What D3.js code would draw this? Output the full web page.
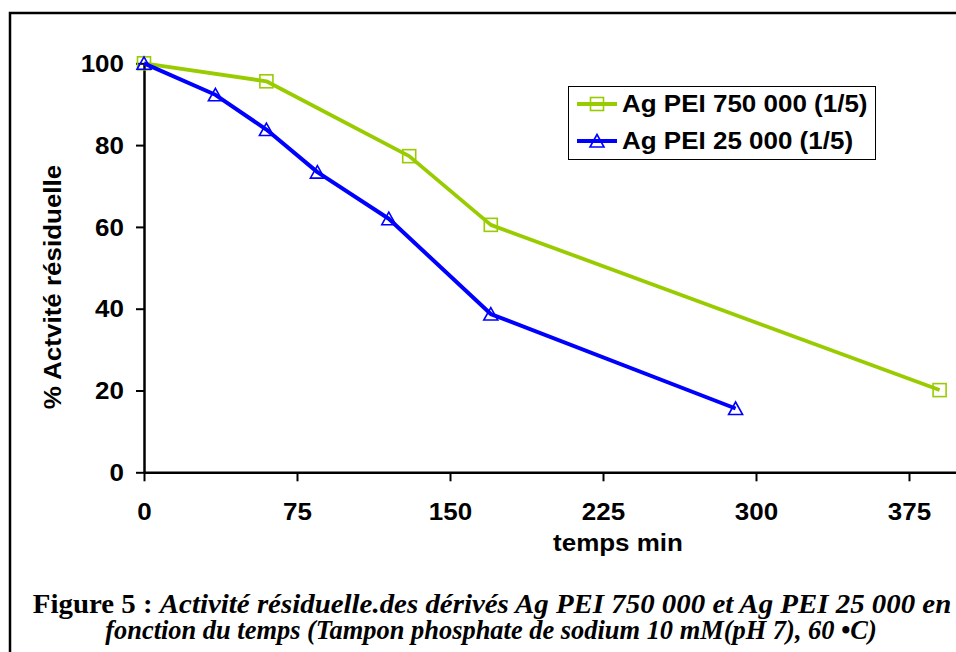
<!DOCTYPE html>
<html>
<head>
<meta charset="utf-8">
<script src="https://cdn.jsdelivr.net/npm/d3@7"></script>
<style>
  body { margin: 0; background: #fff; }
  svg { display: block; }
</style>
</head>
<body>
<svg id="main-vis"></svg>
<script>
// values
const timeGreen = [0, 60, 130, 170, 390];
const actGreen = [100, 95.6, 77.3, 60.5, 20.1];
const timeBlue = [0, 35, 60, 85, 120, 170, 290];
const actBlue = [100, 92.3, 83.8, 73.4, 62, 38.7, 15.6];
const seriesNames = ["Ag PEI 750 000 (1/5)", "Ag PEI 25 000 (1/5)"];
const seriesColors = ["#99cc00", "#0000ff"];
const xTicks = [0, 75, 150, 225, 300, 375];
const yTicks = [0, 20, 40, 60, 80, 100];

const width = 956;
const height = 652;
const fs = 23;
const sx = 1.13; // the original text is drawn a bit wider than Arial
const font = "Arial, 'Liberation Sans', sans-serif";
const serif = "'Times New Roman', 'Liberation Serif', serif";

const svg = d3.select("#main-vis")
  .attr("width", width)
  .attr("height", height);

// outer frame (only top and left edges are inside the picture)
svg.append("path")
  .attr("d", "M10,660 L10,13 L960,13")
  .attr("fill", "none")
  .attr("stroke", "#000")
  .attr("stroke-width", 2.5);

const x = d3.scaleLinear().domain([0, 400]).range([144, 960]);
const y = d3.scaleLinear().domain([0, 100]).range([472.3, 63.3]);

// axes
const yAxis = svg.append("g")
  .attr("transform", `translate(${x(0)},0)`)
  .call(d3.axisLeft(y).tickValues(yTicks).tickSize(8).tickSizeOuter(0));

const xAxis = svg.append("g")
  .attr("transform", `translate(0,${y(0)})`)
  .call(d3.axisBottom(x).tickValues(xTicks).tickSize(9).tickSizeOuter(0));

[xAxis, yAxis].forEach(a => {
  a.select(".domain").attr("stroke", "#000").attr("stroke-width", 2.5);
  a.selectAll(".tick line").attr("stroke", "#000").attr("stroke-width", 2);
  a.selectAll(".tick text")
    .attr("font-family", font)
    .attr("font-weight", "bold")
    .attr("font-size", fs)
    .attr("fill", "#000");
});

yAxis.selectAll(".tick text")
  .attr("x", 0).attr("dy", "0.36em")
  .attr("transform", `translate(-20,0) scale(${sx},1)`);

xAxis.selectAll(".tick text")
  .attr("y", 0).attr("dy", 0)
  .attr("text-anchor", "middle")
  .attr("transform", `translate(0,48) scale(${sx},1)`);

// axis titles
function label(str, tx, ty, rot, anchor) {
  return svg.append("text")
    .attr("transform", `translate(${tx},${ty}) rotate(${rot}) scale(${sx},1)`)
    .attr("text-anchor", anchor)
    .attr("font-family", font)
    .attr("font-weight", "bold")
    .attr("font-size", fs)
    .attr("fill", "#000")
    .text(str);
}

label("temps min", 618, 551, 0, "middle");
label("% Actvité résiduelle", 61, 287, -90, "middle");

// series
const line = d3.line().x(d => x(d[0])).y(d => y(d[1]));
const greenPts = d3.zip(timeGreen, actGreen);
const bluePts = d3.zip(timeBlue, actBlue);

function square(g, color) {
  g.append("rect")
    .attr("x", -6.5).attr("y", -6.5)
    .attr("width", 13).attr("height", 13)
    .attr("fill", "none")
    .attr("stroke", color)
    .attr("stroke-width", 1.6);
}
function triangle(g, color) {
  g.append("path")
    .attr("d", "M0,-6.5 L7,6 L-7,6 Z")
    .attr("fill", "none")
    .attr("stroke", color)
    .attr("stroke-width", 1.6);
}

svg.append("path")
  .datum(greenPts)
  .attr("d", line)
  .attr("fill", "none")
  .attr("stroke", seriesColors[0])
  .attr("stroke-width", 3.8)
  .attr("stroke-linejoin", "round");

svg.append("g").selectAll("g")
  .data(greenPts)
  .enter().append("g")
  .attr("transform", d => `translate(${x(d[0])},${y(d[1])})`)
  .each(function () { square(d3.select(this), seriesColors[0]); });

svg.append("path")
  .datum(bluePts)
  .attr("d", line)
  .attr("fill", "none")
  .attr("stroke", seriesColors[1])
  .attr("stroke-width", 4)
  .attr("stroke-linejoin", "round");

svg.append("g").selectAll("g")
  .data(bluePts)
  .enter().append("g")
  .attr("transform", d => `translate(${x(d[0])},${y(d[1])})`)
  .each(function () { triangle(d3.select(this), seriesColors[1]); });

// legend
const legend = svg.append("g");
legend.append("rect")
  .attr("x", 568.5).attr("y", 86.5)
  .attr("width", 307).attr("height", 73)
  .attr("fill", "#fff")
  .attr("stroke", "#000")
  .attr("stroke-width", 1);

const rowY = [104, 141];
seriesNames.forEach((name, i) => {
  const row = legend.append("g").attr("transform", `translate(0,${rowY[i]})`);
  row.append("line")
    .attr("x1", 577).attr("x2", 617)
    .attr("stroke", seriesColors[i])
    .attr("stroke-width", i === 0 ? 3.8 : 4);
  const m = row.append("g").attr("transform", "translate(597,0)");
  if (i === 0) square(m, seriesColors[i]);
  else triangle(m, seriesColors[i]);
  row.append("text")
    .attr("transform", `translate(622,8) scale(${sx},1)`)
    .attr("font-family", font)
    .attr("font-weight", "bold")
    .attr("font-size", fs)
    .attr("fill", "#000")
    .text(name);
});

// caption
function fitText(sel, cx, by, target) {
  const w = sel.node().getComputedTextLength();
  sel.attr("transform", `translate(${cx},${by}) scale(${target / w},1)`);
}

const cap1 = svg.append("text")
  .attr("text-anchor", "middle")
  .attr("font-family", serif)
  .attr("font-weight", "bold")
  .attr("font-size", 27)
  .attr("fill", "#000");
cap1.append("tspan").text("Figure 5 : ");
cap1.append("tspan").attr("font-style", "italic")
  .text("Activité résiduelle.des dérivés Ag PEI 750 000 et Ag PEI 25 000 en");
fitText(cap1, 492, 613, 919);

const cap2 = svg.append("text")
  .attr("text-anchor", "middle")
  .attr("font-family", serif)
  .attr("font-weight", "bold")
  .attr("font-style", "italic")
  .attr("font-size", 27)
  .attr("fill", "#000")
  .text("fonction du temps (Tampon phosphate de sodium 10 mM(pH 7), 60 •C)");
fitText(cap2, 491, 639, 772);
</script>
</body>
</html>
